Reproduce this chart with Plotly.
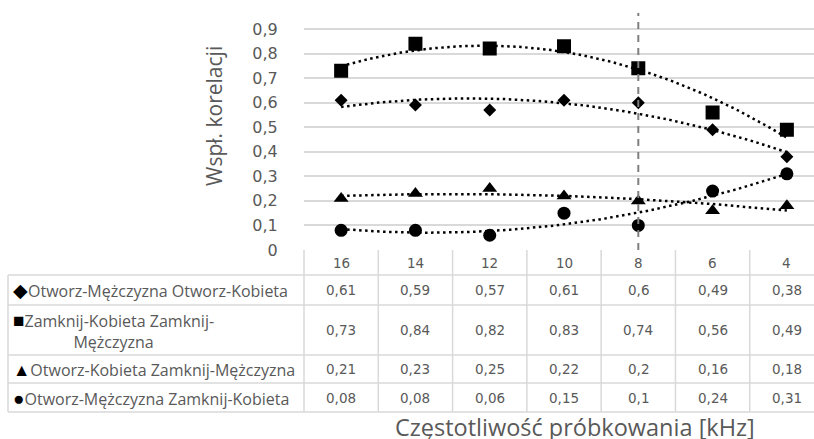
import numpy as np
import plotly.graph_objects as go

# Sampling frequency [kHz] and correlation coefficients per pairing
freq = ["16", "14", "12", "10", "8", "6", "4"]
otw_m_otw_k = [0.61, 0.59, 0.57, 0.61, 0.6, 0.49, 0.38]
zam_k_zam_m = [0.73, 0.84, 0.82, 0.83, 0.74, 0.56, 0.49]
otw_k_zam_m = [0.21, 0.23, 0.25, 0.22, 0.2, 0.16, 0.18]
otw_m_zam_k = [0.08, 0.08, 0.06, 0.15, 0.1, 0.24, 0.31]

series_names = [
    "Otworz-Mężczyzna Otworz-Kobieta",
    "Zamknij-Kobieta Zamknij-Mężczyzna",
    "Otworz-Kobieta Zamknij-Mężczyzna",
    "Otworz-Mężczyzna Zamknij-Kobieta",
]
table_labels = [
    "Otworz-Mężczyzna Otworz-Kobieta",
    "Zamknij-Kobieta Zamknij-<br>Mężczyzna",
    "Otworz-Kobieta Zamknij-Mężczyzna",
    "Otworz-Mężczyzna Zamknij-Kobieta",
]
series = [otw_m_otw_k, zam_k_zam_m, otw_k_zam_m, otw_m_zam_k]
symbols = ["diamond", "square", "triangle-up", "circle"]
symbol_chars = ["◆", "■", "▲", "●"]
symbol_char_px = [19, 19, 17.5, 19]
marker_sizes = [10, 14, 13, 13]

y_ticks = [0, 0.1, 0.2, 0.3, 0.4, 0.5, 0.6, 0.7, 0.8, 0.9]
y_ticktext = [f"{v:g}".replace(".", ",") for v in y_ticks]

# Layout constants (pixels in a 814 x 439 canvas)
W, H = 814, 439
GRAY = "#595959"
GRID = "#d9d9d9"
FONT = "Open Sans"
NUM_FONT = "DejaVu Sans"
X_LEFT = 304            # left edge of plot area / first data column
TABLE_LEFT = 8
X_RANGE = [-0.5, 6.365]
row_edges = [250, 275, 305, 355, 383, 412]   # header top .. last row bottom


def py(p):
    """pixel row -> paper fraction"""
    return 1 - p / H


def xdom(v):
    """x data value -> x-domain fraction"""
    return (v - X_RANGE[0]) / (X_RANGE[1] - X_RANGE[0])


xi = np.arange(len(freq))
fig = go.Figure()

# Quadratic trend lines (dotted)
xs = np.linspace(0, len(freq) - 1, 120)
for vals in series:
    coef = np.polyfit(xi + 1, vals, 2)
    fig.add_trace(go.Scatter(
        x=xs, y=np.polyval(coef, xs + 1), mode="lines",
        line=dict(color="black", width=2.5, dash="2.5px,3.5px"),
        hoverinfo="skip", showlegend=False,
    ))

# Data markers
for vals, sym, sz, name in zip(series, symbols, marker_sizes, series_names):
    fig.add_trace(go.Scatter(
        x=xi, y=vals, mode="markers", name=name,
        marker=dict(symbol=sym, size=sz, color="black", line=dict(width=0)),
        showlegend=False,
    ))

# 8 kHz threshold
fig.add_shape(type="line", xref="x", yref="y", x0=4, x1=4, y0=0, y1=0.965,
              line=dict(color="#7f7f7f", width=2, dash="7px,6px"))

# ---- data table under the plot ----
border = dict(color=GRID, width=1.5)
for yy in row_edges[1:]:
    fig.add_shape(type="line", xref="paper", yref="paper",
                  x0=TABLE_LEFT / W, x1=1, y0=py(yy), y1=py(yy), line=border)
for i in range(len(freq)):
    fig.add_shape(type="line", xref="x domain", yref="paper",
                  x0=xdom(i - 0.5), x1=xdom(i - 0.5),
                  y0=py(row_edges[0]), y1=py(row_edges[-1]), line=border)
fig.add_shape(type="line", xref="paper", yref="paper",
              x0=TABLE_LEFT / W, x1=TABLE_LEFT / W,
              y0=py(row_edges[1]), y1=py(row_edges[-1]), line=border)

num_font = dict(family=NUM_FONT, size=13.5, color=GRAY)
lab_font = dict(family=FONT, size=16, color=GRAY)
hdr_mid = (row_edges[0] + row_edges[1]) / 2
for i, f in enumerate(freq):
    fig.add_annotation(text=f, xref="x", yref="paper", x=i, y=py(hdr_mid),
                       xanchor="center", yanchor="middle",
                       showarrow=False, font=num_font)
for r, (vals, ch, px, lab) in enumerate(zip(series, symbol_chars, symbol_char_px, table_labels)):
    mid = (row_edges[r + 1] + row_edges[r + 2]) / 2
    key = f"<span style='color:black;font-size:{px}px'>{ch}</span>"
    fig.add_annotation(text=f"{key}{lab}",
                       xref="paper", yref="paper", x=11 / W, y=py(mid),
                       xanchor="left", yanchor="middle", align="center",
                       showarrow=False, font=lab_font)
    for i, v in enumerate(vals):
        fig.add_annotation(text=f"{v:g}".replace(".", ","), xref="x", yref="paper",
                           x=i, y=py(mid), xanchor="center", yanchor="middle",
                           showarrow=False, font=num_font)

# Axis titles
fig.add_annotation(text="Wspł. korelacji", xref="paper", yref="paper",
                   x=214 / W, y=py(116), xanchor="center", yanchor="middle",
                   textangle=-90, showarrow=False,
                   font=dict(family=FONT, size=21, color=GRAY))
fig.add_annotation(text="Częstotliwość próbkowania [kHz]", xref="paper", yref="paper",
                   x=575 / W, y=py(427), xanchor="center", yanchor="middle",
                   showarrow=False,
                   font=dict(family=FONT, size=23.5, color=GRAY))

fig.update_layout(
    width=W, height=H,
    margin=dict(l=0, r=0, t=0, b=0, autoexpand=False),
    paper_bgcolor="white", plot_bgcolor="white",
    xaxis=dict(domain=[X_LEFT / W, 1.0], range=X_RANGE, automargin=False,
               showgrid=False, zeroline=False, showticklabels=False, ticks=""),
    yaxis=dict(domain=[py(250), py(4.4)], range=[0, 1.0], automargin=False,
               tickvals=y_ticks, ticktext=y_ticktext,
               showgrid=True, gridcolor=GRID, gridwidth=1.5, zeroline=False,
               ticks="outside", ticklen=0, tickcolor="white", ticklabelstandoff=22,
               tickfont=dict(family=NUM_FONT, size=16, color=GRAY)),
)

fig.write_html("out.html")
